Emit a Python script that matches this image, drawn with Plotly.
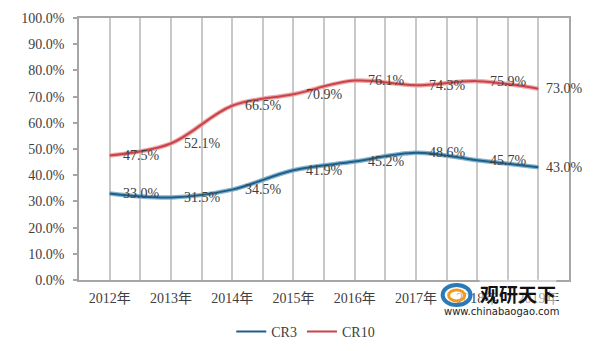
import plotly.graph_objects as go

years = ["2012年", "2013年", "2014年", "2015年", "2016年", "2017年", "2018年", "2019年"]
cr3 = [33.0, 31.5, 34.5, 41.9, 45.2, 48.6, 45.7, 43.0]
cr10 = [47.5, 52.1, 66.5, 70.9, 76.1, 74.3, 75.9, 73.0]
y_ticks = [0, 10, 20, 30, 40, 50, 60, 70, 80, 90, 100]

xs = list(range(len(years)))
FONT = "Liberation Serif, Noto Sans CJK SC, serif"
TXT = "#404040"

fig = go.Figure()

series = [
    ("CR3", cr3, "#1d5f88", "rgba(120,170,200,0.9)"),
    ("CR10", cr10, "#c8444a", "rgba(235,160,160,0.9)"),
]
for name, vals, dark, light in series:
    fig.add_trace(go.Scatter(x=xs, y=vals, mode="lines", line=dict(color=light, width=4.5, shape="spline", smoothing=1.0),
                             showlegend=False, hoverinfo="skip", legendgroup=name))
    fig.add_trace(go.Scatter(x=xs, y=vals, mode="lines", name=name, legendgroup=name,
                             line=dict(color=dark, width=2, shape="spline", smoothing=1.0)))

annotations = []
for name, vals, dark, light in series:
    for i, v in enumerate(vals):
        annotations.append(dict(x=xs[i], y=v, xref="x", yref="y", text=f"{v:.1f}%", showarrow=False,
                                xanchor="left", yanchor="middle", xshift=(6 if i == len(vals) - 1 else 11),
                                font=dict(family=FONT, size=14, color=TXT)))

L, R, T, B = 79, 29.5, 17.5, 71
pw, ph = 599 - L - R, 351 - T - B
def px(xp, yp):
    return (xp - L) / pw, (351 - B - yp) / ph

# watermark
wx, wy = px(518, 294)
annotations.append(dict(x=wx, y=wy, xref="paper", yref="paper", text="<b>观研天下</b>", showarrow=False,
                        xanchor="center", yanchor="middle",
                        font=dict(family="Noto Sans CJK SC", size=19, color="#111111"),
                        bgcolor="rgba(255,255,255,0.5)", borderpad=0))
wx2, wy2 = px(502, 312)
annotations.append(dict(x=wx2, y=wy2, xref="paper", yref="paper", text="www.chinabaogao.com", showarrow=False,
                        xanchor="center", yanchor="middle",
                        font=dict(family="DejaVu Sans, sans-serif", size=10, color="#222222")))

shapes = []
cx0, cy0 = px(443, 285)
cx1, cy1 = px(471, 305)
shapes.append(dict(type="circle", xref="paper", yref="paper", x0=cx0, y0=cy1, x1=cx1, y1=cy0,
                   fillcolor="rgba(255,255,255,0.6)", line=dict(color="#2a7ab8", width=4)))
ax0, ay0 = px(449, 290)
ax1, ay1 = px(465, 301)
shapes.append(dict(type="circle", xref="paper", yref="paper", x0=ax0, y0=ay1, x1=ax1, y1=ay0,
                   fillcolor="rgba(0,0,0,0)", line=dict(color="#f39a1e", width=3)))

lx, ly = px(306, 332)
fig.update_layout(
    width=599, height=351,
    margin=dict(l=L, r=R, t=T, b=B, autoexpand=False),
    paper_bgcolor="white", plot_bgcolor="white",
    font=dict(family=FONT, size=14, color=TXT),
    annotations=annotations,
    shapes=shapes,
    legend=dict(orientation="h", x=lx, xanchor="center", y=ly, yanchor="middle",
                font=dict(family=FONT, size=14, color=TXT), itemwidth=30, tracegroupgap=0),
    xaxis=dict(range=[-0.5, 7.5], tickmode="array", tickvals=xs, ticktext=years,
               showgrid=True, gridcolor="#c8c8c8", gridwidth=1.5,
               minor=dict(tickmode="linear", tick0=-0.5, dtick=1, showgrid=True, gridcolor="#c8c8c8", gridwidth=1.5),
               showline=True, linecolor="#a6a6a6", linewidth=1.5, mirror=True,
               ticks="", ticklabelstandoff=4, zeroline=False,
               tickfont=dict(family=FONT, size=14, color=TXT)),
    yaxis=dict(range=[0, 100], tickmode="array", tickvals=y_ticks, ticktext=[f"{v:.1f}%" for v in y_ticks],
               showgrid=False, zeroline=False, showline=True, linecolor="#a6a6a6", linewidth=1.5, mirror=True,
               ticks="outside", ticklen=4, tickcolor="#a6a6a6", tickwidth=1.5, ticklabelstandoff=6,
               tickfont=dict(family=FONT, size=14, color=TXT)),
)

fig.write_html("out.html")
